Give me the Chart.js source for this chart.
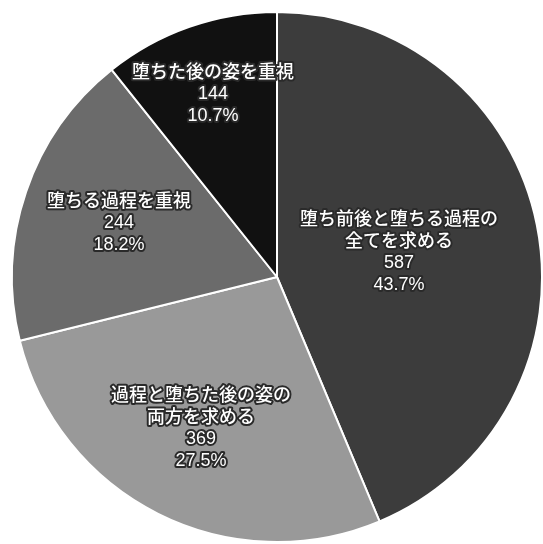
<!DOCTYPE html>
<html>
<head>
<meta charset="utf-8">
<script src="https://cdn.jsdelivr.net/npm/chart.js@4/dist/chart.umd.min.js"></script>
<style>
  html, body { margin: 0; padding: 0; background: #fff; }
  canvas { display: block; }
</style>
</head>
<body>
<canvas id="myChart" width="543" height="544"></canvas>
<script>
// 回答の内訳
const categories = [
    ['堕ち前後と堕ちる過程の', '全てを求める'],
    ['過程と堕ちた後の姿の', '両方を求める'],
    ['堕ちる過程を重視'],
    ['堕ちた後の姿を重視'],
]
const counts = [587, 369, 244, 144]
const percents = ['43.7%', '27.5%', '18.2%', '10.7%']

const sliceColors = ['#3c3c3c', '#999999', '#6b6b6b', '#111111']
// ラベルを置く半径 (外周に対する割合)
const labelRadius = [0.47, 0.64, 0.63, 0.73]

// 扇形の中に白文字+縁取りでラベルを描く
const pieLabels = {
    id: 'pieLabels',
    afterDatasetsDraw(chart) {
        const ctx = chart.ctx
        const meta = chart.getDatasetMeta(0)
        ctx.save()
        ctx.font = '500 18px "Liberation Sans", "Noto Sans CJK JP", sans-serif'
        ctx.textAlign = 'center'
        ctx.textBaseline = 'middle'
        ctx.lineJoin = 'round'
        ctx.lineWidth = 4
        ctx.strokeStyle = '#2a2a2a'
        ctx.fillStyle = '#ffffff'
        meta.data.forEach(function (arc, i) {
            const p = arc.getProps(['x', 'y', 'startAngle', 'endAngle', 'outerRadius'], true)
            const mid = (p.startAngle + p.endAngle) / 2
            const r = p.outerRadius * labelRadius[i]
            const cx = p.x + Math.cos(mid) * r
            const cy = p.y + Math.sin(mid) * r
            const lines = categories[i].concat([String(counts[i]), percents[i]])
            const lh = 21.5
            const top = cy - (lines.length - 1) * lh / 2
            lines.forEach(function (t, k) {
                ctx.strokeText(t, cx, top + k * lh)
                ctx.fillText(t, cx, top + k * lh)
            })
        })
        ctx.restore()
    },
}

const ctx = document.getElementById('myChart').getContext('2d')
const myChart = new Chart(ctx, {
    type: 'pie',
    data: {
        labels: categories.map(function (c) { return c.join('') }),
        datasets: [
            {
                data: counts,
                backgroundColor: sliceColors,
                borderColor: '#ffffff',
                borderWidth: 2,
            },
        ],
    },
    options: {
        responsive: false,
        animation: false,
        layout: {
            padding: { left: 11, right: 0, top: 11, bottom: 1 },
        },
        plugins: {
            legend: { display: false },
            tooltip: { enabled: false },
        },
    },
    plugins: [pieLabels],
})
</script>
</body>
</html>
